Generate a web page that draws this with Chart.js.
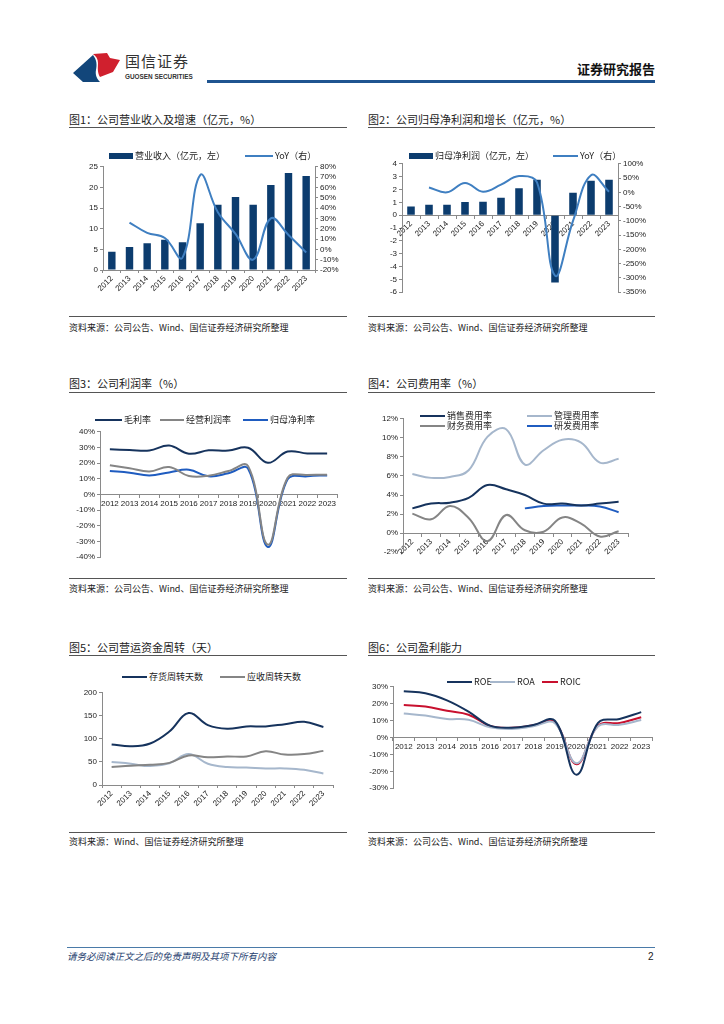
<!DOCTYPE html>
<html>
<head>
<meta charset="utf-8">
<script src="https://cdn.jsdelivr.net/npm/chart.js@4.4.0/dist/chart.umd.min.js"></script>
<style>
  html, body { margin: 0; padding: 0; background: #fff; }
  body { width: 724px; height: 1024px; position: relative; overflow: hidden;
         font-family: "Noto Sans CJK SC", "Liberation Sans", sans-serif; color: #222; }
  .abs { position: absolute; }
  .title { position: absolute; font-size: 11px; line-height: 14px; white-space: nowrap; color: #222; }
  .rule { position: absolute; height: 0; border-top: 1.5px solid #555; }
  .src { position: absolute; font-size: 9px; line-height: 12px; white-space: nowrap; color: #222; }
  .box { position: absolute; }
  .lg { position: absolute; font-size: 9px; line-height: 10px; white-space: nowrap;
        display: flex; align-items: center; color: #222; }
  .lg i { display: inline-block; height: 2px; margin-right: 2px; }
</style>
</head>
<body>

<!-- header -->
<svg class="abs" style="left:70px;top:50px" width="54" height="36" viewBox="0 0 54 36">
  <path d="M3 23 L23 5 C27 10 27 15 26 20 C25 25 27 29 30 32 L13 32 Z" fill="#12467a"/>
  <path d="M23 4 L37 3 L40 8 L50 10 L43 22 L30 27 C27 22 28 17 28 13 C28 9 26 6 23 4 Z" fill="#d0202e"/>
</svg>
<div class="abs" style="left:125px;top:52px;font-size:15px;line-height:18px;color:#333;letter-spacing:1px">国信证券</div>
<div class="abs" style="left:125px;top:73px;font-size:6.4px;line-height:8px;color:#333;font-family:'Liberation Sans',sans-serif;font-weight:bold">GUOSEN SECURITIES</div>
<div class="abs" style="left:560px;width:95px;top:61px;font-size:13px;line-height:16px;font-weight:bold;text-align:right;color:#111">证券研究报告</div>
<div class="abs" style="left:207px;top:80px;width:448px;height:3px;background:#1f5490"></div>

<!-- row 1 -->
<div class="title" style="left:69px;top:112px">图1：公司营业收入及增速（亿元，%）</div>
<div class="rule" style="left:69px;top:127px;width:278px"></div>
<div class="title" style="left:368px;top:112px">图2：公司归母净利润和增长（亿元，%）</div>
<div class="rule" style="left:368px;top:127px;width:287px"></div>
<div class="rule" style="left:69px;top:316px;width:278px;border-top-width:1px"></div>
<div class="src" style="left:69px;top:322px">资料来源：公司公告、Wind、国信证券经济研究所整理</div>
<div class="rule" style="left:368px;top:316px;width:287px;border-top-width:1px"></div>
<div class="src" style="left:368px;top:322px">资料来源：公司公告、Wind、国信证券经济研究所整理</div>

<!-- row 2 -->
<div class="title" style="left:69px;top:376px">图3：公司利润率（%）</div>
<div class="rule" style="left:69px;top:392px;width:278px"></div>
<div class="title" style="left:368px;top:376px">图4：公司费用率（%）</div>
<div class="rule" style="left:368px;top:392px;width:287px"></div>
<div class="rule" style="left:69px;top:578px;width:278px;border-top-width:1px"></div>
<div class="src" style="left:69px;top:583px">资料来源：公司公告、Wind、国信证券经济研究所整理</div>
<div class="rule" style="left:368px;top:578px;width:287px;border-top-width:1px"></div>
<div class="src" style="left:368px;top:583px">资料来源：公司公告、Wind、国信证券经济研究所整理</div>

<!-- row 3 -->
<div class="title" style="left:69px;top:640px">图5：公司营运资金周转（天）</div>
<div class="rule" style="left:69px;top:655px;width:278px"></div>
<div class="title" style="left:368px;top:640px">图6：公司盈利能力</div>
<div class="rule" style="left:368px;top:655px;width:287px"></div>
<div class="rule" style="left:69px;top:832px;width:278px;border-top-width:1px"></div>
<div class="src" style="left:69px;top:836px">资料来源：Wind、国信证券经济研究所整理</div>
<div class="rule" style="left:368px;top:832px;width:287px;border-top-width:1px"></div>
<div class="src" style="left:368px;top:836px">资料来源：公司公告、Wind、国信证券经济研究所整理</div>

<!-- footer -->
<div class="abs" style="left:67px;top:947px;width:588px;height:1px;background:#4a7aa8"></div>
<div class="abs" style="left:67px;top:950px;font-size:9.5px;line-height:13px;font-style:italic;color:#1f3f6f">请务必阅读正文之后的免责声明及其项下所有内容</div>
<div class="abs" style="left:648px;top:950px;font-size:10px;line-height:13px;color:#222;font-family:'Liberation Sans',sans-serif">2</div>

<script>
// ---------- data ----------
const years = ['2012','2013','2014','2015','2016','2017','2018','2019','2020','2021','2022','2023'];

// 图1
const revenue    = [4.4, 5.6, 6.5, 7.3, 6.7, 11.3, 15.8, 17.7, 15.8, 20.6, 23.5, 22.8];
const revenueYoY = [null, 26, 16, 11, -8, 72, 36, 15, -10, 30, 14, -3];

// 图2
const netProfit    = [0.67, 0.82, 0.82, 1.02, 1.05, 1.36, 2.1, 2.75, -5.25, 1.75, 2.68, 2.75];
const netProfitYoY = [null, 17, 0, 33, 2, 27, 57, 35, -292, -100, 60, 2];

// 图3
const grossMargin = [28.8, 28.4, 28.0, 31.2, 26.0, 28.2, 28.0, 29.8, 20.2, 27.4, 26.2, 26.2];
const opMargin    = [18.7, 16.8, 14.7, 17.5, 11.8, 12.0, 15.0, 18.1, -32.0, 10.7, 12.5, 12.6];
const netMargin   = [15.0, 13.9, 12.2, 14.1, 15.8, 11.6, 13.5, 16.4, -33.5, 9.7, 11.6, 12.2];

// 图4
const salesRate   = [2.6, 3.1, 3.2, 3.7, 5.05, 4.6, 4.0, 3.1, 3.1, 2.9, 3.1, 3.3];
const adminRate   = [6.2, 5.8, 5.9, 6.6, 10.1, 10.9, 7.2, 8.7, 9.8, 9.5, 7.4, 7.8];
const financeRate = [2.05, 1.45, 2.85, 1.6, -0.85, 1.9, 0.3, 0.15, 1.65, 1.0, -0.35, 0.2];
const rndRate     = [null, null, null, null, null, null, 2.6, 2.85, 2.9, 2.9, 2.8, 2.2];

// 图5
const inventoryDays  = [88, 84, 90, 116, 156, 130, 122, 127, 127, 132, 137, 126];
const receivableDays = [39, 42, 44, 48, 64, 60, 62, 62, 73, 66, 67, 74];
const otherDays      = [50, 46, 41, 47, 67, 46, 39, 38, 36, 36, 33, 25];

// 图6
const roe  = [27.3, 26.2, 22.0, 15.3, 7.0, 5.8, 7.4, 9.9, -22.0, 8.6, 11.0, 15.0];
const roa  = [14.2, 13.0, 11.0, 10.5, 6.0, 5.0, 6.6, 8.5, -15.2, 6.6, 7.5, 10.3];
const roic = [19.2, 18.3, 15.8, 13.5, 6.8, 5.7, 7.2, 9.0, -15.8, 7.0, 8.6, 12.0];

// ---------- style ----------
const NAVY = '#0c3c6e', DARK = '#16335d', BLUE = '#3f7fc1', BRIGHT = '#1f5cc0',
      GRAY = '#858585', PALE = '#a6b7cc', RED = '#c8102e', AX = '#8a8a8a';

Chart.defaults.font.family = '"Liberation Sans", Arial, sans-serif';
Chart.defaults.font.size = 8;
Chart.defaults.color = '#222';
Chart.defaults.animation = false;

const pct = v => v + '%';

function box(left, top, w, h){
  const d = document.createElement('div');
  d.className = 'box';
  Object.assign(d.style, { left: left+'px', top: top+'px', width: w+'px', height: h+'px' });
  const c = document.createElement('canvas');
  d.appendChild(c);
  document.body.appendChild(d);
  return c;
}

function yAxis(min, max, step, pos, width, fmt){
  return {
    type: 'linear', position: pos, min, max,
    ticks: { stepSize: step, padding: 2, autoSkip: false, callback: fmt || (v => v) },
    grid: { display: true, drawOnChartArea: false, tickLength: 3, color: AX },
    border: { display: true, color: AX },
    afterFit: s => { s.width = width; }
  };
}

function xAxis(pos, rot, height){
  const ax = {
    type: 'category', position: pos, offset: true,
    ticks: { autoSkip: false, minRotation: rot, maxRotation: rot, padding: 1 },
    grid: { display: true, drawOnChartArea: false, offset: true, tickLength: 3, color: AX },
    border: { display: true, color: AX }
  };
  if (height) ax.afterFit = s => { s.height = height; };
  return ax;
}

function line(label, data, color, axis){
  return { type: 'line', label, data, borderColor: color, backgroundColor: color,
           borderWidth: 2, pointRadius: 0, tension: 0.4, yAxisID: axis || 'y', order: 1 };
}

function opts(scales, padding){
  return {
    responsive: true, maintainAspectRatio: false,
    layout: { padding },
    plugins: { legend: { display: false }, tooltip: { enabled: false } },
    scales
  };
}

// html legend built from the datasets
function legend(chart, spots){
  chart.data.datasets.forEach((ds, i) => {
    if (!ds.label || !spots[i]) return;
    const d = document.createElement('div');
    d.className = 'lg';
    d.style.left = spots[i][0] + 'px';
    d.style.top = (spots[i][1] - 5) + 'px';
    const m = document.createElement('i');
    m.style.width = (spots[i][2] || 25) + 'px';
    if (ds.type === 'bar') { m.style.height = '6px'; m.style.background = ds.backgroundColor; }
    else m.style.background = ds.borderColor;
    d.appendChild(m);
    d.appendChild(document.createTextNode(ds.label));
    document.body.appendChild(d);
  });
}

// ---------- 图1 ----------
const c1 = new Chart(box(75, 160, 270, 136), {
  type: 'bar',
  data: { labels: years, datasets: [
    { type: 'bar', label: '营业收入（亿元，左）', data: revenue, backgroundColor: NAVY,
      barPercentage: 0.42, categoryPercentage: 1, yAxisID: 'y', order: 2 },
    line('YoY（右）', revenueYoY, BLUE, 'y1')
  ]},
  options: opts({
    x: xAxis('bottom', 45, 26),
    y: yAxis(0, 25, 5, 'left', 28),
    y1: yAxis(-20, 80, 10, 'right', 30, pct)
  }, { top: 6 })
});
legend(c1, [[109, 156, 24], [245, 156, 28]]);

// ---------- 图2 ----------
const c2 = new Chart(box(376, 157, 274, 142), {
  type: 'bar',
  data: { labels: years, datasets: [
    { type: 'bar', label: '归母净利润（亿元，左）', data: netProfit, backgroundColor: NAVY,
      barPercentage: 0.42, categoryPercentage: 1, yAxisID: 'y', order: 2 },
    line('YoY（右）', netProfitYoY, BLUE, 'y1')
  ]},
  options: opts({
    x: xAxis({ y: 0 }, 45),
    y: yAxis(-6, 4, 1, 'left', 26),
    y1: yAxis(-350, 100, 50, 'right', 32, pct)
  }, { top: 6, bottom: 6 })
});
legend(c2, [[409, 156, 24], [553, 156, 25]]);

// ---------- 图3 ----------
const c3 = new Chart(box(74, 425, 271, 139), {
  type: 'line',
  data: { labels: years, datasets: [
    line('毛利率', grossMargin, DARK),
    line('经营利润率', opMargin, GRAY),
    line('归母净利率', netMargin, BRIGHT)
  ]},
  options: opts({
    x: xAxis({ y: 0 }, 0),
    y: yAxis(-40, 40, 10, 'left', 26, pct)
  }, { top: 6, bottom: 6, right: 8 })
});
legend(c3, [[95, 420, 27], [160, 420, 24], [243, 420, 25]]);

// ---------- 图4 ----------
const c4 = new Chart(box(379, 412, 259, 147), {
  type: 'line',
  data: { labels: years, datasets: [
    line('销售费用率', salesRate, DARK),
    line('管理费用率', adminRate, PALE),
    line('财务费用率', financeRate, GRAY),
    line('研发费用率', rndRate, BRIGHT)
  ]},
  options: opts({
    x: xAxis({ y: 0 }, 45),
    y: yAxis(-2, 12, 2, 'left', 24, pct)
  }, { top: 6, bottom: 6, right: 10 })
});
legend(c4, [[420, 416, 25], [527, 416, 25], [420, 426, 25], [527, 426, 25]]);

// ---------- 图5 ----------
const c5 = new Chart(box(78, 686, 265, 127), {
  type: 'line',
  data: { labels: years, datasets: [
    line('存货周转天数', inventoryDays, DARK),
    line('应收周转天数', receivableDays, GRAY),
    line('', otherDays, PALE)
  ]},
  options: opts({
    x: xAxis('bottom', 45, 28),
    y: yAxis(0, 200, 50, 'left', 24)
  }, { top: 6, right: 10 })
});
legend(c5, [[122, 677, 25], [220, 677, 25]]);

// ---------- 图6 ----------
const c6 = new Chart(box(367, 680, 288, 115), {
  type: 'line',
  data: { labels: years, datasets: [
    line('ROE', roe, DARK),
    line('ROA', roa, PALE),
    line('ROIC', roic, RED)
  ]},
  options: opts({
    x: xAxis({ y: 0 }, 0),
    y: yAxis(-30, 30, 10, 'left', 26, pct)
  }, { top: 6, bottom: 6, right: 3 })
});
legend(c6, [[447, 682, 25], [490, 682, 25], [542, 682, 16]]);
</script>
</body>
</html>
